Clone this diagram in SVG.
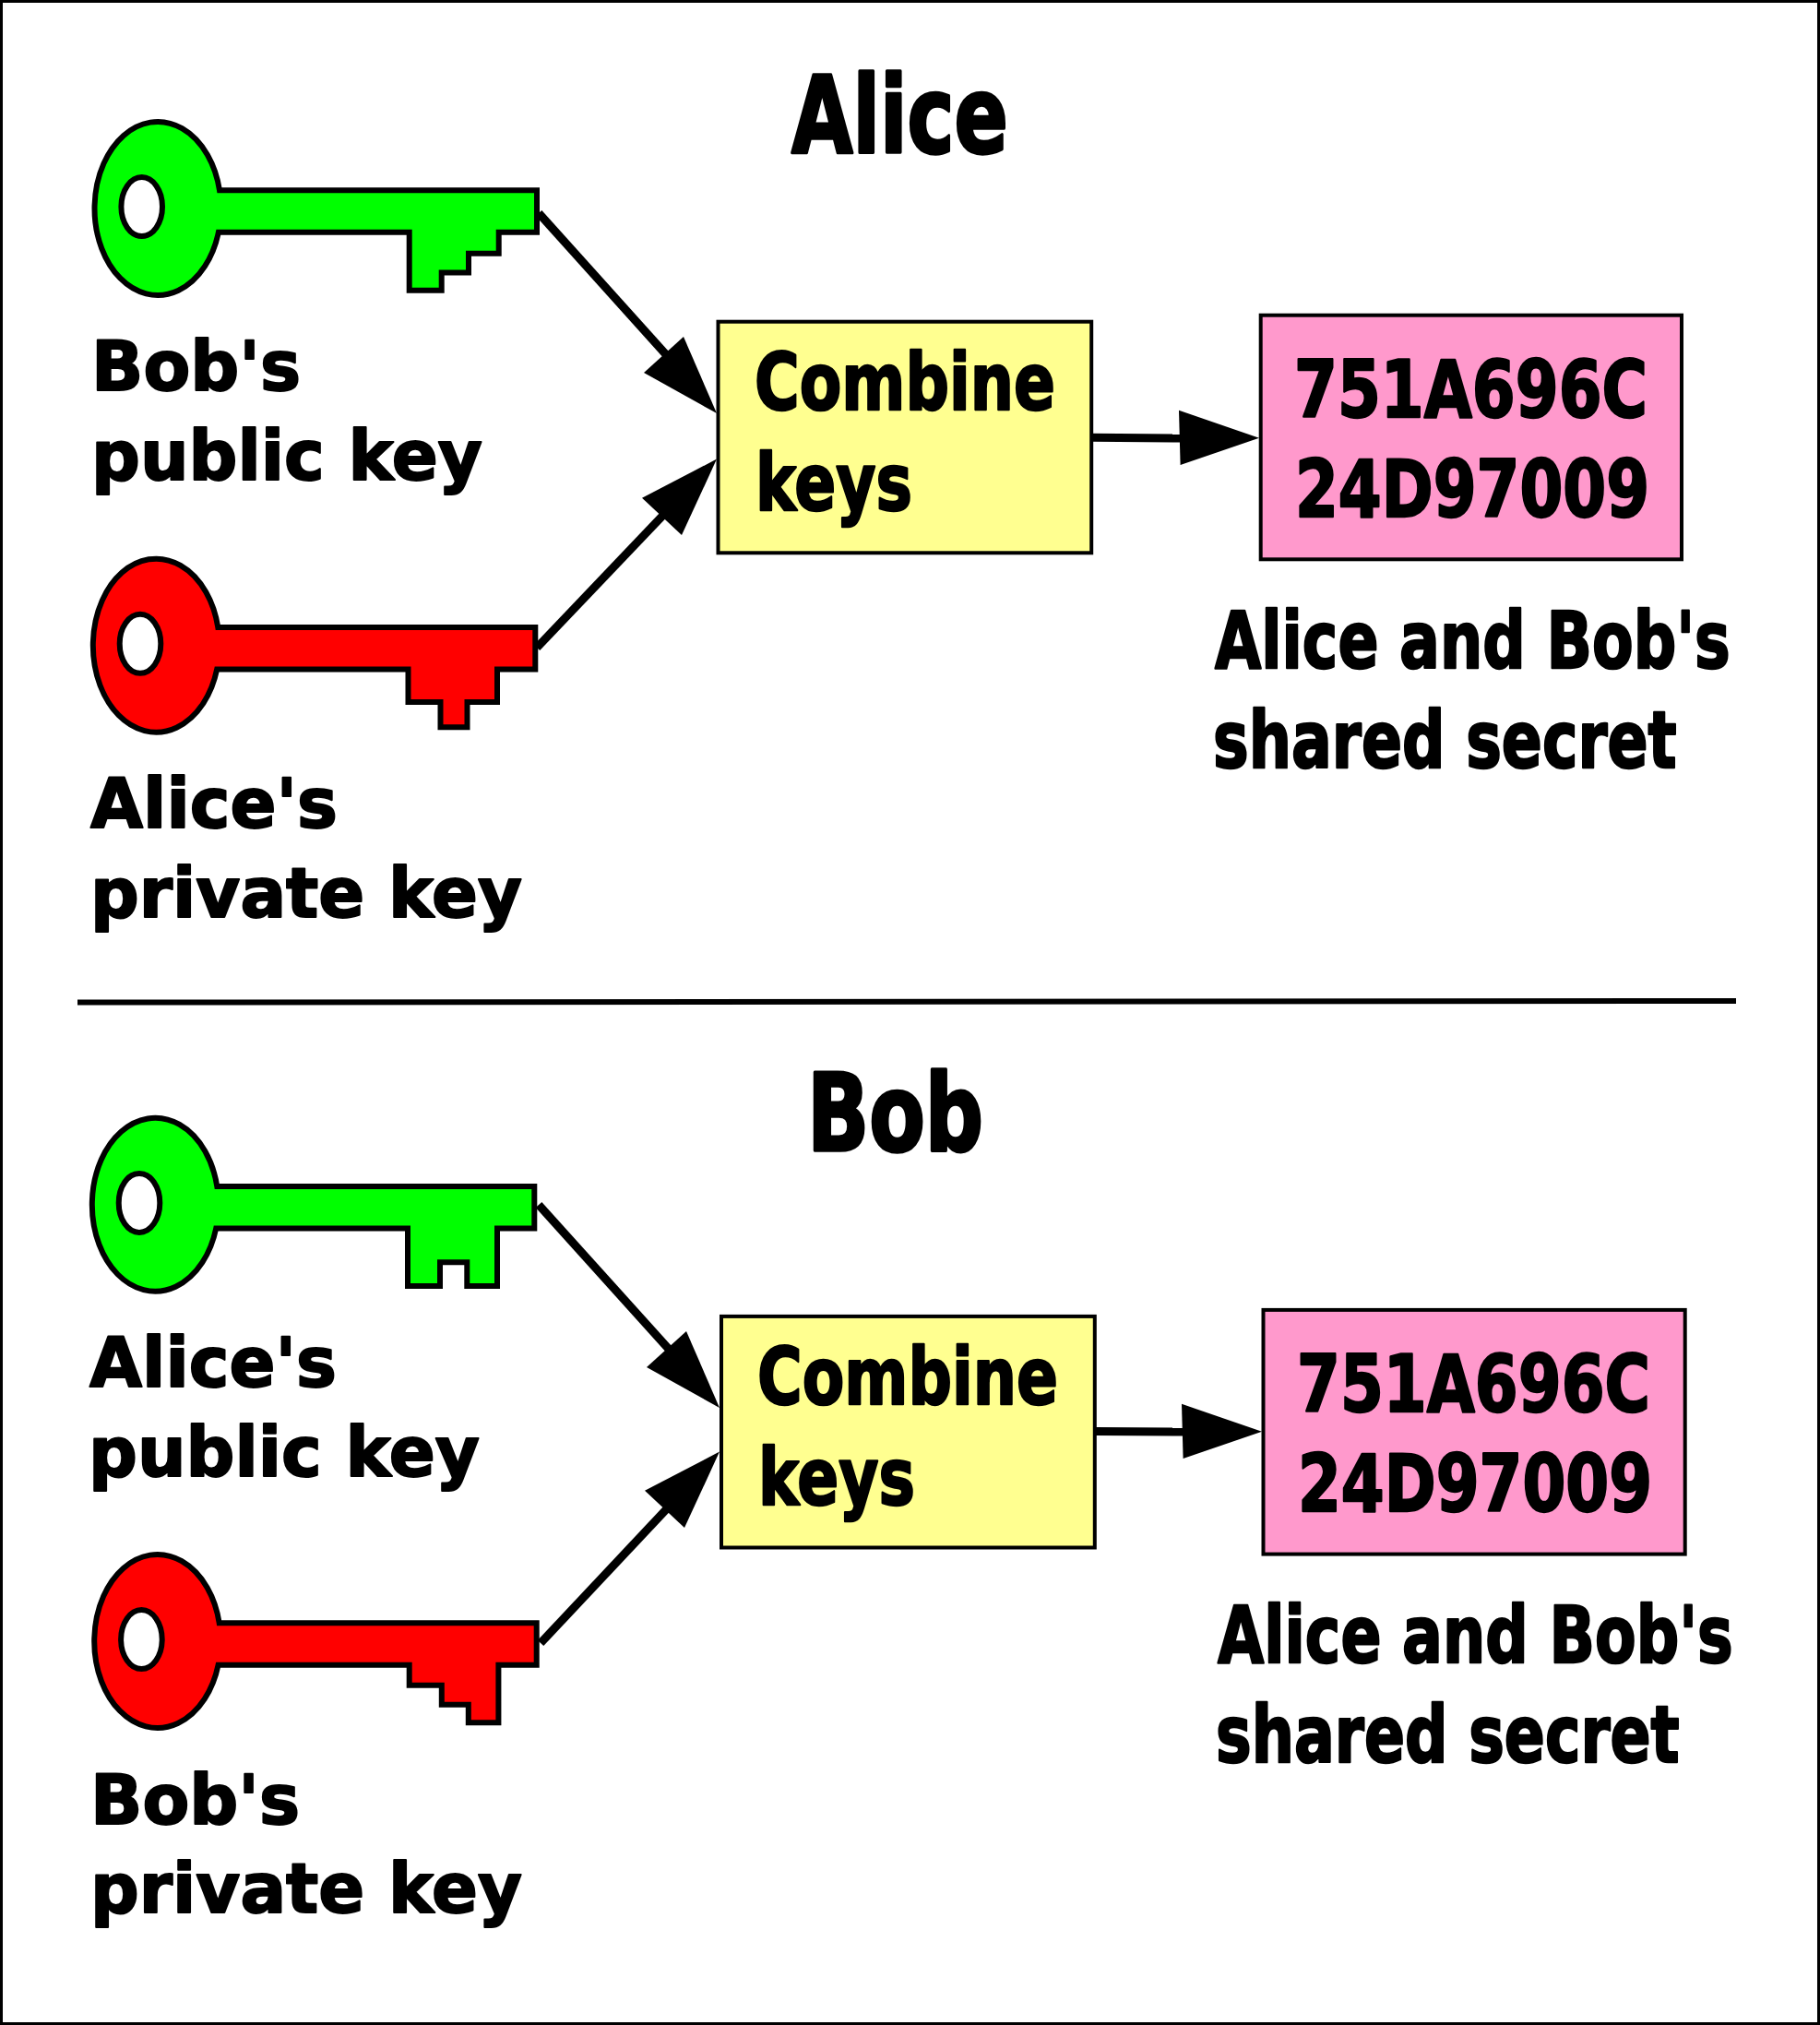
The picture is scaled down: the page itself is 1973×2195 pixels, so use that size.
<svg xmlns="http://www.w3.org/2000/svg" width="1973" height="2195" viewBox="0 0 1973 2195">
<style>
text{font-family:"DejaVu Sans","Liberation Sans",sans-serif;font-weight:700;fill:#000;stroke:#000;stroke-linejoin:round}
.lbl{font-size:75px;stroke-width:2}
.ttl{font-size:115px;stroke-width:3.5}
.big{font-size:86px;stroke-width:2.5}
.k{stroke:#000;stroke-width:6;stroke-linejoin:miter}
.g{fill:#0f0}
.r{fill:#f00}
.h{fill:#fff;stroke:#000;stroke-width:6}
.y{fill:#ffff90;stroke:#000;stroke-width:4}
.p{fill:#ff99cc;stroke:#000;stroke-width:4}
.c{stroke:#000;stroke-width:9;fill:none}
.a{fill:#000}
</style>
<rect width="1973" height="2195" fill="#fff"/>
<rect x="1.5" y="1.5" width="1970" height="2192" fill="none" stroke="#000" stroke-width="3"/>
<g id="connectors">
<line class="c" x1="584" y1="231" x2="728" y2="391"/>
<polygon class="a" points="777,448 741,365 698,404"/>
<line class="c" x1="582" y1="702" x2="725" y2="552"/>
<polygon class="a" points="777,497.6 696,539.7 739,580"/>
<line class="c" x1="1183" y1="474.3" x2="1285" y2="475"/>
<polygon class="a" points="1365,474.8 1278,444.8 1279.6,504"/>
<line class="c" x1="584" y1="1306" x2="731" y2="1469"/>
<polygon class="a" points="780,1526 744,1443 701,1482"/>
<line class="c" x1="586" y1="1781" x2="728" y2="1630"/>
<polygon class="a" points="780,1573.6 699,1615.7 742,1656"/>
<line class="c" x1="1187" y1="1551.6" x2="1288" y2="1552"/>
<polygon class="a" points="1368,1551.8 1281,1521.8 1282.6,1581"/>
<line x1="84" y1="1086.6" x2="1882" y2="1085" stroke="#000" stroke-width="6"/>
</g>
<g id="title-alice"><text class="ttl" x="858" y="165" textLength="235" lengthAdjust="spacingAndGlyphs">Alice</text></g>
<g id="title-bob"><text class="ttl" x="875" y="1247" textLength="191" lengthAdjust="spacingAndGlyphs">Bob</text></g>
<g id="key-bob-public-a">
<g transform="translate(170.7,226)"><path class="k g" d="M67.3-19.7H411.3V25.7H370V48.7H337.3V69.5H308V88.7H273V25.7H66.2A68.5 94 0 1 1 67.3-19.7Z"/><ellipse class="h" cx="-17" cy="-1.9" rx="22.3" ry="32"/></g>
<text class="lbl" x="99" y="423.4" textLength="227" lengthAdjust="spacingAndGlyphs">Bob's</text>
<text class="lbl" x="99" y="520" textLength="424" lengthAdjust="spacingAndGlyphs">public key</text>
</g>
<g id="key-alice-private-a">
<g transform="translate(169,699.7)"><path class="k r" d="M67.3-19.7H411.3V25.7H370V61.3H337.5V88.6H308.5V61.3H273.5V25.7H66.2A68.5 94 0 1 1 67.3-19.7Z"/><ellipse class="h" cx="-17" cy="-1.9" rx="22.3" ry="32"/></g>
<text class="lbl" x="98" y="896.7" textLength="268" lengthAdjust="spacingAndGlyphs">Alice's</text>
<text class="lbl" x="98" y="993.6" textLength="468" lengthAdjust="spacingAndGlyphs">private key</text>
</g>
<g id="combine-a">
<rect class="y" x="778.5" y="348.7" width="404.7" height="250.6"/>
<text class="big" x="818" y="444" textLength="326" lengthAdjust="spacingAndGlyphs">Combine</text>
<text class="big" x="819" y="553" textLength="170" lengthAdjust="spacingAndGlyphs">keys</text>
</g>
<g id="secret-a">
<rect class="p" x="1366.7" y="341.7" width="456.3" height="264.6"/>
<text class="big" x="1403" y="452" textLength="383" lengthAdjust="spacingAndGlyphs">751A696C</text>
<text class="big" x="1404" y="560" textLength="384" lengthAdjust="spacingAndGlyphs">24D97009</text>
</g>
<g id="secret-label-a">
<text class="big" transform="translate(1317,724) scale(.756,1)">Alice and Bob's</text>
<text class="big" transform="translate(1315,832) scale(.756,1)">shared secret</text>
</g>
<g id="key-alice-public-b">
<g transform="translate(168,1305.8)"><path class="k g" d="M67.3-19.7H411.3V25.7H371V88.2H338.3V62.4H309V88.2H274V25.7H66.2A68.5 94 0 1 1 67.3-19.7Z"/><ellipse class="h" cx="-17" cy="-1.9" rx="22.3" ry="32"/></g>
<text class="lbl" x="97" y="1503.4" textLength="268" lengthAdjust="spacingAndGlyphs">Alice's</text>
<text class="lbl" x="96" y="1600" textLength="424" lengthAdjust="spacingAndGlyphs">public key</text>
</g>
<g id="key-bob-private-b">
<g transform="translate(170.4,1779)"><path class="k r" d="M67.3-19.7H411.3V25.7H370V88.2H337.4V68.8H308.4V47.8H273.3V25.7H66.2A68.5 94 0 1 1 67.3-19.7Z"/><ellipse class="h" cx="-17" cy="-1.9" rx="22.3" ry="32"/></g>
<text class="lbl" x="98" y="1976.7" textLength="227" lengthAdjust="spacingAndGlyphs">Bob's</text>
<text class="lbl" x="98" y="2073" textLength="468" lengthAdjust="spacingAndGlyphs">private key</text>
</g>
<g id="combine-b">
<rect class="y" x="782" y="1426.9" width="404.8" height="250.6"/>
<text class="big" x="821" y="1522" textLength="326" lengthAdjust="spacingAndGlyphs">Combine</text>
<text class="big" x="822" y="1631" textLength="170" lengthAdjust="spacingAndGlyphs">keys</text>
</g>
<g id="secret-b">
<rect class="p" x="1369.5" y="1419.9" width="457.2" height="264.7"/>
<text class="big" x="1406" y="1530" textLength="383" lengthAdjust="spacingAndGlyphs">751A696C</text>
<text class="big" x="1407" y="1638" textLength="384" lengthAdjust="spacingAndGlyphs">24D97009</text>
</g>
<g id="secret-label-b">
<text class="big" transform="translate(1320,1802) scale(.756,1)">Alice and Bob's</text>
<text class="big" transform="translate(1318,1910) scale(.756,1)">shared secret</text>
</g>
</svg>
